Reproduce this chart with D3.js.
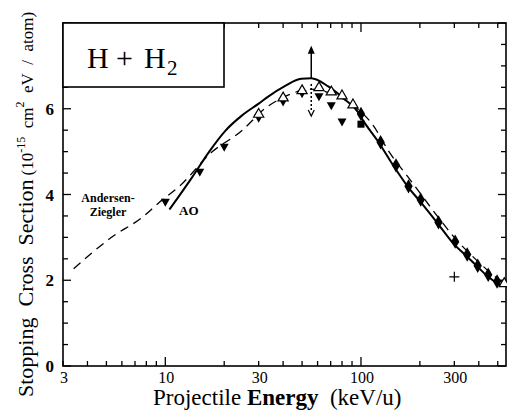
<!DOCTYPE html>
<html>
<head>
<meta charset="utf-8">
<script src="https://cdn.jsdelivr.net/npm/d3@7"></script>
<style>
  body { margin: 0; background: #fff; }
</style>
</head>
<body>
<svg id="chart" width="507" height="410"></svg>
<script>
// AO calculation (solid)
const aoE = [10.5, 13.7, 16.7, 20.2, 24.6, 30, 33.7, 40.6, 49.5, 55.7, 68, 82, 96.6, 102, 123, 147, 173, 202, 249, 296, 349, 397, 447, 496, 525];
const aoS = [3.65, 4.40, 4.99, 5.48, 5.84, 6.12, 6.29, 6.52, 6.70, 6.71, 6.52, 6.23, 5.92, 5.74, 5.22, 4.66, 4.19, 3.82, 3.30, 2.86, 2.55, 2.30, 2.08, 1.93, 1.86];

// Andersen-Ziegler (dashed)
const azE = [3.4, 5.38, 7.64, 9.33, 11.8, 17.3, 24.5, 32.2, 44.2, 54, 70, 90, 115, 139, 180, 250, 300, 400, 500, 540];
const azS = [2.27, 3.02, 3.47, 3.82, 4.19, 4.99, 5.48, 6.0, 6.35, 6.46, 6.36, 6.1, 5.62, 5.0, 4.32, 3.45, 3.0, 2.42, 2.04, 1.94];

// experiments
const triDnE = [10, 15, 20, 30, 40, 50, 61, 70.5, 80];
const triDnS = [3.82, 4.52, 5.1, 5.78, 6.16, 6.35, 6.28, 6.07, 5.69];
const triUpE = [30, 40, 50, 61, 70.5, 80, 91, 540];
const triUpS = [5.87, 6.25, 6.42, 6.49, 6.39, 6.30, 6.09, 1.92];
const dotE = [100, 126, 151, 175, 202, 249, 303, 349, 395, 447, 496];
const dotS = [5.88, 5.22, 4.68, 4.19, 3.88, 3.35, 2.90, 2.60, 2.34, 2.13, 1.97];
const squareE = [100];
const squareS = [5.64];
const plusE = [300];
const plusS = [2.08];

// arrows at the peak
const arrowE = 55.7;
const arrowUp = [6.70, 7.47];
const arrowDown = [6.58, 5.83];

const xMajor = [10, 100];
const xLabels = [3, 10, 30, 100, 300];
const yLabels = [0, 2, 4, 6];

const serif = '"Liberation Serif"';
const svg = d3.select('#chart');
const x = d3.scaleLog().domain([3, 551]).range([63, 506]);
const y = d3.scaleLinear().domain([0, 8]).range([366, 23]);

const xMinor = [];
[1, 10, 100].forEach(dec => d3.range(1, 10).forEach(m => {
  const v = dec * m;
  if (v >= 3 && v <= 551) xMinor.push(v);
}));
const yTicks = d3.range(0, 8.01, 0.5);

// frame
svg.append('rect')
  .attr('x', 63).attr('y', 23)
  .attr('width', 506 - 63).attr('height', 366 - 23)
  .attr('fill', 'none').attr('stroke', '#000').attr('stroke-width', 1.6);

// ticks
const tk = svg.append('g').attr('stroke', '#000').attr('stroke-width', 1.3);
xMinor.forEach(v => {
  const len = xMajor.includes(v) ? 9 : 5;
  tk.append('line').attr('x1', x(v)).attr('x2', x(v)).attr('y1', 366).attr('y2', 366 - len);
  tk.append('line').attr('x1', x(v)).attr('x2', x(v)).attr('y1', 23).attr('y2', 23 + len);
});
yTicks.forEach(v => {
  const len = (v % 2 === 0) ? 8 : 5;
  tk.append('line').attr('x1', 63).attr('x2', 63 + len).attr('y1', y(v)).attr('y2', y(v));
  tk.append('line').attr('x1', 506).attr('x2', 506 - len).attr('y1', y(v)).attr('y2', y(v));
});

// tick labels
svg.selectAll('.xl').data(xLabels).join('text')
  .attr('class', 'xl')
  .attr('x', d => x(d) + 1).attr('y', 383)
  .attr('text-anchor', 'middle')
  .style('font-family', serif)
  .attr('font-size', 16)
  .text(d => d);
svg.selectAll('.yl').data(yLabels).join('text')
  .attr('class', 'yl')
  .attr('x', 54).attr('y', d => y(d) + 6)
  .attr('text-anchor', 'end')
  .style('font-family', serif)
  .attr('font-size', 17).attr('font-weight', 'bold')
  .text(d => d);

// axis titles
const xt = svg.append('text')
  .attr('x', 153).attr('y', 405)
  .style('font-family', serif)
  .attr('font-size', 23);
xt.append('tspan').text('Projectile ');
xt.append('tspan').attr('font-weight', 'bold').text('Energy');
xt.append('tspan').text('\u2002(keV/u)');

const yt = svg.append('text')
  .attr('transform', 'translate(33,397) rotate(-90)')
  .style('font-family', serif)
  .attr('font-size', 22);
yt.append('tspan').text('Stopping\u2002Cross\u2002Section');
yt.append('tspan').attr('font-size', 17).attr('dx', 4).text('(10');
yt.append('tspan').attr('font-size', 12).attr('dy', -8).text('-15');
yt.append('tspan').attr('font-size', 17).attr('dy', 8).text('\u2002cm');
yt.append('tspan').attr('font-size', 12).attr('dy', -9).text('2');
yt.append('tspan').attr('font-size', 17).attr('dy', 9).text('\u2002eV\u2002/\u2002atom)');

// title box
svg.append('rect')
  .attr('x', 63).attr('y', 23).attr('width', 224 - 63).attr('height', 87 - 23)
  .attr('fill', '#fff').attr('stroke', '#000').attr('stroke-width', 1.6);
const tt = svg.append('text')
  .attr('y', 68)
  .style('font-family', serif)
  .attr('font-size', 30);
tt.append('tspan').attr('x', 87).text('H');
tt.append('tspan').attr('x', 116).text('+');
tt.append('tspan').attr('x', 144).text('H');
tt.append('tspan').attr('x', 167).attr('font-size', 21).attr('dy', 7).text('2');

// curves
const line = d3.line().x(d => x(d[0])).y(d => y(d[1])).curve(d3.curveMonotoneX);
svg.append('path')
  .datum(d3.zip(azE, azS))
  .attr('d', line)
  .attr('fill', 'none').attr('stroke', '#000').attr('stroke-width', 1.3)
  .attr('stroke-dasharray', '9,6');
svg.append('path')
  .datum(d3.zip(aoE, aoS))
  .attr('d', line)
  .attr('fill', 'none').attr('stroke', '#000').attr('stroke-width', 2);

// curve labels
svg.append('text').attr('x', 108).attr('y', 202).attr('text-anchor', 'middle')
  .style('font-family', serif)
  .attr('font-size', 12).attr('font-weight', 'bold').text('Andersen-');
svg.append('text').attr('x', 108).attr('y', 216).attr('text-anchor', 'middle')
  .style('font-family', serif)
  .attr('font-size', 12).attr('font-weight', 'bold').text('Ziegler');
svg.append('text').attr('x', 179).attr('y', 215)
  .style('font-family', serif)
  .attr('font-size', 13).attr('font-weight', 'bold').text('AO');

// markers
const sym = (type, size) => d3.symbol().type(type).size(size)();
const triDown = 'M-4.5,-3.5L4.5,-3.5L0,4.5Z';

svg.selectAll('.tdn').data(d3.zip(triDnE, triDnS)).join('path')
  .attr('class', 'tdn')
  .attr('transform', d => `translate(${x(d[0])},${y(d[1])})`)
  .attr('d', triDown).attr('fill', '#000');
svg.selectAll('.tup').data(d3.zip(triUpE, triUpS)).join('path')
  .attr('class', 'tup')
  .attr('transform', d => `translate(${x(d[0])},${y(d[1])})`)
  .attr('d', sym(d3.symbolTriangle, 45))
  .attr('fill', '#fff').attr('stroke', '#000').attr('stroke-width', 1.2);
svg.selectAll('.dot').data(d3.zip(dotE, dotS)).join('path')
  .attr('class', 'dot')
  .attr('transform', d => `translate(${x(d[0])},${y(d[1])})`)
  .attr('d', sym(d3.symbolDiamond, 60)).attr('fill', '#000');
svg.selectAll('.sq').data(d3.zip(squareE, squareS)).join('path')
  .attr('class', 'sq')
  .attr('transform', d => `translate(${x(d[0])},${y(d[1])})`)
  .attr('d', sym(d3.symbolSquare, 50)).attr('fill', '#000');
svg.selectAll('.pl').data(d3.zip(plusE, plusS)).join('path')
  .attr('class', 'pl')
  .attr('transform', d => `translate(${x(d[0])},${y(d[1])})`)
  .attr('d', 'M-5,0L5,0M0,-5L0,5')
  .attr('stroke', '#000').attr('stroke-width', 1.2);

// peak arrows
const ax = x(arrowE);
svg.append('line').attr('x1', ax).attr('x2', ax)
  .attr('y1', y(arrowUp[0])).attr('y2', y(arrowUp[1]) + 6)
  .attr('stroke', '#000').attr('stroke-width', 1.5);
svg.append('path')
  .attr('d', `M${ax - 3.5},${y(arrowUp[1]) + 8}L${ax},${y(arrowUp[1])}L${ax + 3.5},${y(arrowUp[1]) + 8}Z`)
  .attr('fill', '#000');
svg.append('line').attr('x1', ax).attr('x2', ax)
  .attr('y1', y(arrowDown[0])).attr('y2', y(arrowDown[1]) - 5)
  .attr('stroke', '#000').attr('stroke-width', 1.5).attr('stroke-dasharray', '2,2');
svg.append('path')
  .attr('d', `M${ax - 3},${y(arrowDown[1]) - 6}L${ax},${y(arrowDown[1])}L${ax + 3},${y(arrowDown[1]) - 6}`)
  .attr('fill', 'none').attr('stroke', '#000').attr('stroke-width', 1.3);
</script>
</body>
</html>
